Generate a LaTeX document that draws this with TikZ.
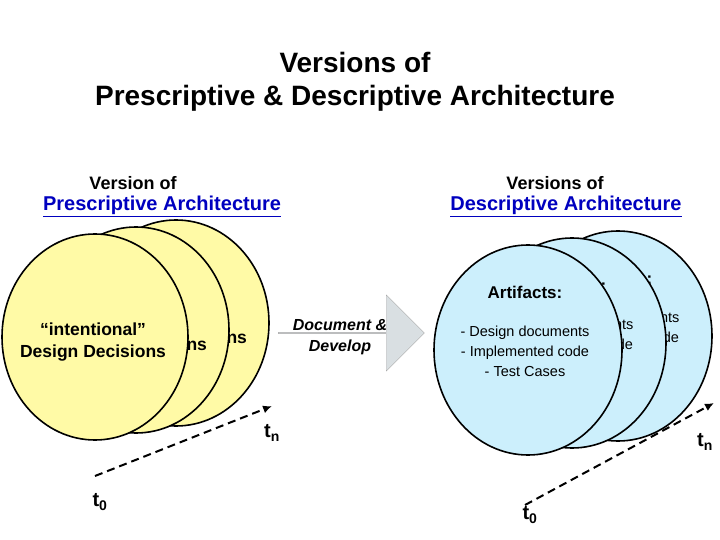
\documentclass[tikz,border=0pt]{standalone}
\usepackage{fontspec}
\setmainfont{Liberation Sans}
\usetikzlibrary{arrows.meta,shapes.arrows,shapes.geometric}
\begin{document}
\begin{tikzpicture}[x=1pt,y=-1pt,
  yel/.style={ellipse,draw=black,line width=1.6pt,fill=yellow!35!white,minimum width=186pt,minimum height=206pt,inner sep=0pt},
  cya/.style={ellipse,draw=black,line width=1.6pt,fill=cyan!20!white,minimum width=188pt,minimum height=210pt,inner sep=0pt},
  ttl/.style={font=\bfseries\fontsize{28}{33}\selectfont,align=center},
  hdr/.style={font=\bfseries\fontsize{18}{21}\selectfont},
  hdl/.style={font=\bfseries\fontsize{20}{24}\selectfont,text=blue!75!black},
  axis/.style={dashed,line width=2pt,dash pattern=on 8pt off 5pt,-{Latex[length=9pt,width=8pt]}},
  lab/.style={font=\bfseries\fontsize{20}{22}\selectfont}]
\useasboundingbox (0,0) rectangle (720,540);
\node[ttl] (title) at (355,82) {Versions of\\Prescriptive \& Descriptive Architecture};
\node[hdr] (h1) at (133,183) {Version of};
\node[hdl] (h2) at (162,206) {\underline{Prescriptive Architecture}};
\node[hdr] (h3) at (555,183) {Versions of};
\node[hdl] (h4) at (566,206) {\underline{Descriptive Architecture}};
% left ellipses
\foreach \n/\x/\y in {l3/176/323,l2/136/330,l1/95/337}{
  \node[yel] (\n) at (\x,\y) {};
  \node[font=\bfseries\fontsize{17.5}{22}\selectfont,align=center] (\n t) at (\x-2,\y+5) {“intentional”\\Design Decisions};
}
\coordinate (a0) at (95,476);
\coordinate (a1) at (272,406);
\draw[axis] (a0) -- (a1);
\node[lab] (t0l) at (100,502) {t\textsubscript{0}};
\node[lab] (tnl) at (272,433) {t\textsubscript{n}};
% arrow
\node[single arrow,draw=gray!70,fill=cyan!15!gray!30,minimum height=146pt,minimum width=76pt,single arrow head extend=13pt,inner sep=0pt,shape border uses incircle=false] (arr) at (351,333) {};
\node[font=\bfseries\itshape\fontsize{16}{21}\selectfont,align=center] (arrt) at (340,337) {Document \&\\Develop};
% right ellipses
\foreach \n/\x/\y in {r3/618/336,r2/572/343,r1/528/350}{
  \node[cya] (\n) at (\x,\y) {};
  \node[font=\bfseries\fontsize{17}{20}\selectfont] (\n a) at (\x-3,\y-58) {Artifacts:};
  \node[font=\fontsize{14.5}{20}\selectfont,align=center] (\n b) at (\x-3,\y+1) {- Design documents\\- Implemented code\\- Test Cases};
}
\coordinate (b0) at (525,505);
\coordinate (b1) at (714,403);
\draw[axis] (b0) -- (b1);
\node[lab] (t0r) at (530,515) {t\textsubscript{0}};
\node[lab] (tnr) at (705,442) {t\textsubscript{n}};
\end{tikzpicture}
\end{document}
